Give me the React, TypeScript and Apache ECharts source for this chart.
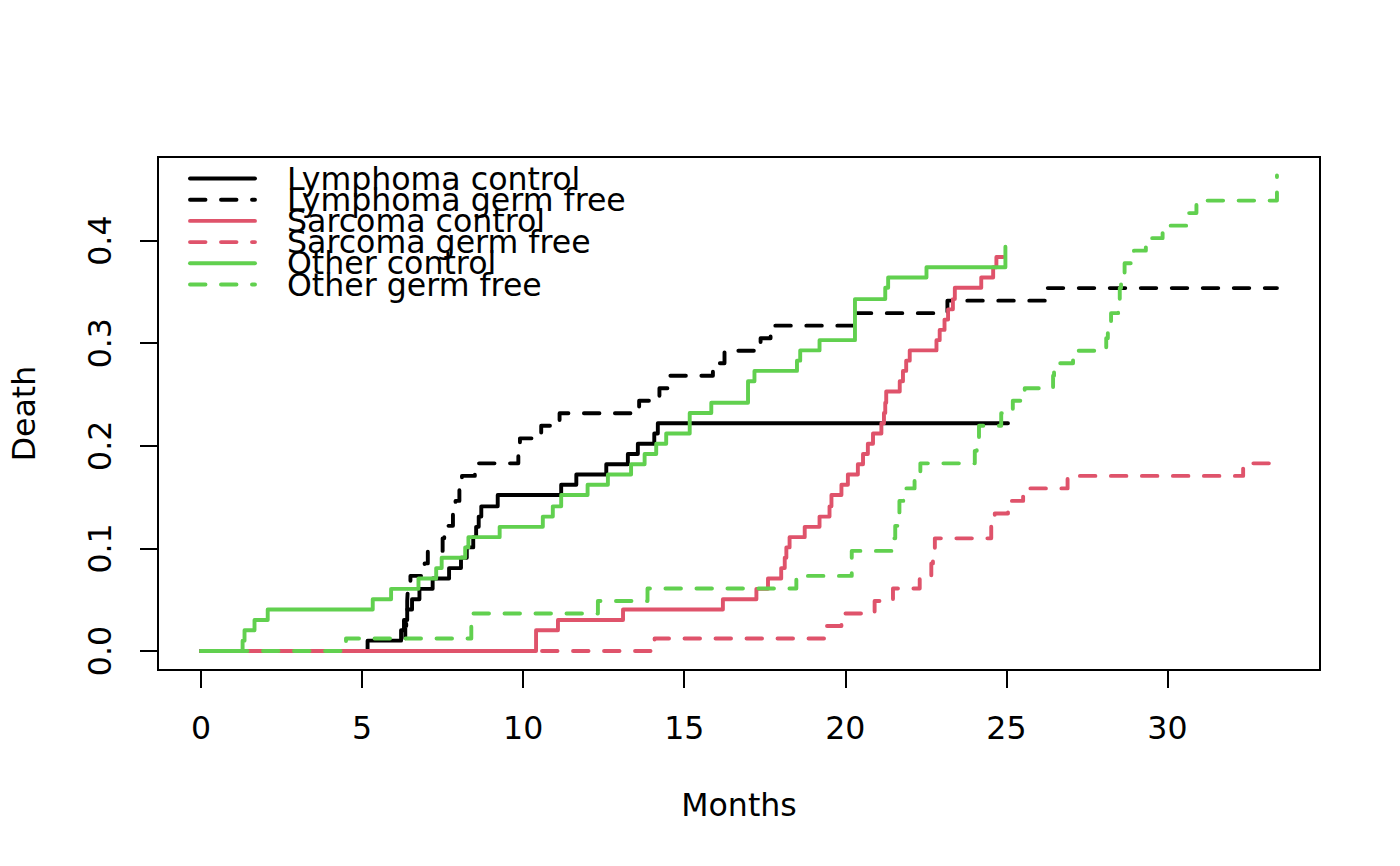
import React, { useEffect, useRef } from "react";
import * as echarts from "echarts";

const seriesNames = [
  "Lymphoma control",
  "Lymphoma germ free",
  "Sarcoma control",
  "Sarcoma germ free",
  "Other control",
  "Other germ free",
];
const seriesColors = ["#000000", "#000000", "#DF536B", "#DF536B", "#61D04F", "#61D04F"];
const seriesDashed = [false, true, false, true, false, true];

const lymphomaControl = [
  [0, 0], [5.17, 0.0101], [6.21, 0.0202], [6.3, 0.0303], [6.4, 0.0404], [6.55, 0.0505],
  [6.78, 0.0606], [7.19, 0.0707], [7.7, 0.0808], [8.07, 0.0909], [8.25, 0.101], [8.45, 0.111],
  [8.54, 0.121], [8.62, 0.131], [8.7, 0.141], [9.21, 0.152], [11.18, 0.162], [11.65, 0.172],
  [12.58, 0.182], [13.25, 0.192], [13.56, 0.202], [14.07, 0.212], [14.18, 0.222], [25.05, 0.222],
];

const lymphomaGermFree = [
  [0, 0], [6.3, 0.0122], [6.34, 0.0244], [6.37, 0.0366], [6.4, 0.0488], [6.42, 0.061],
  [6.5, 0.0732], [6.94, 0.0854], [7.04, 0.0976], [7.5, 0.1098], [7.55, 0.122], [7.82, 0.1341],
  [7.9, 0.1463], [8.02, 0.1585], [8.1, 0.1707], [8.5, 0.1829], [9.85, 0.1951], [9.9, 0.2073],
  [10.56, 0.2195], [11.13, 0.2317], [13.6, 0.2439], [14.23, 0.2561], [14.54, 0.2683],
  [15.89, 0.2805], [16.25, 0.2927], [17.37, 0.3049], [17.68, 0.3171], [20.31, 0.3293],
  [23.17, 0.3415], [26.24, 0.3537], [33.4, 0.3537],
];

const sarcomaControl = [
  [0, 0], [10.4, 0.0202], [11.08, 0.0303], [13.1, 0.0404], [16.2, 0.0505], [17.24, 0.0606],
  [17.6, 0.0707], [18.01, 0.0808], [18.12, 0.0909], [18.17, 0.101], [18.27, 0.111],
  [18.74, 0.121], [19.2, 0.131], [19.51, 0.141], [19.57, 0.152], [19.88, 0.162], [20.08, 0.172],
  [20.39, 0.182], [20.55, 0.192], [20.7, 0.202], [20.86, 0.212], [21.12, 0.222], [21.2, 0.232],
  [21.24, 0.242], [21.27, 0.253], [21.69, 0.263], [21.79, 0.273], [21.89, 0.283], [22.0, 0.293],
  [22.83, 0.303], [22.93, 0.313], [23.08, 0.323], [23.19, 0.333], [23.34, 0.343], [23.4, 0.354],
  [24.22, 0.364], [24.59, 0.374], [24.69, 0.384], [24.9, 0.384],
];

const sarcomaGermFree = [
  [0, 0], [14.08, 0.0122], [19.36, 0.0244], [19.88, 0.0366], [20.91, 0.0488], [21.48, 0.061],
  [22.31, 0.0732], [22.67, 0.0854], [22.72, 0.0976], [22.78, 0.1098], [24.53, 0.122],
  [24.64, 0.1341], [25.05, 0.1463], [25.52, 0.1585], [26.9, 0.1707], [32.35, 0.1829],
  [33.4, 0.1829],
];

const otherControl = [
  [0, 0], [1.29, 0.0101], [1.35, 0.0202], [1.66, 0.0303], [2.07, 0.0404], [5.33, 0.0505],
  [5.9, 0.0606], [6.75, 0.0707], [7.3, 0.0808], [7.47, 0.0909], [8.2, 0.101], [8.3, 0.111],
  [9.27, 0.121], [10.61, 0.131], [10.92, 0.141], [11.18, 0.152], [12.0, 0.162], [12.63, 0.172],
  [13.35, 0.182], [13.77, 0.192], [14.13, 0.202], [14.44, 0.212], [15.17, 0.232], [15.84, 0.242],
  [16.98, 0.263], [17.18, 0.273], [18.5, 0.283], [18.6, 0.293], [19.2, 0.303], [20.3, 0.343],
  [21.24, 0.354], [21.33, 0.364], [22.52, 0.374], [24.97, 0.394],
];

const otherGermFree = [
  [0, 0], [4.5, 0.0122], [8.39, 0.0366], [12.32, 0.0488], [13.86, 0.061], [18.48, 0.0732],
  [20.2, 0.0976], [21.5, 0.1098], [21.55, 0.122], [21.62, 0.1341], [21.68, 0.1463],
  [21.8, 0.1585], [22.15, 0.1707], [22.33, 0.1829], [24.02, 0.1951], [24.08, 0.2073],
  [24.15, 0.2195], [24.84, 0.2317], [25.2, 0.2439], [25.57, 0.2561], [26.45, 0.2683],
  [26.48, 0.2805], [27.07, 0.2927], [28.1, 0.3049], [28.15, 0.3171], [28.25, 0.3293],
  [28.47, 0.3415], [28.52, 0.3537], [28.56, 0.3659], [28.67, 0.378], [28.96, 0.3902],
  [29.33, 0.4024], [29.85, 0.4146], [30.6, 0.4268], [30.9, 0.439], [33.4, 0.4634],
];

const seriesData = [
  lymphomaControl,
  lymphomaGermFree,
  sarcomaControl,
  sarcomaGermFree,
  otherControl,
  otherGermFree,
];

const xTicks = [0, 5, 10, 15, 20, 25, 30];
const yTicks = [0, 0.1, 0.2, 0.3, 0.4];

const FONT = "DejaVu Sans";
const FS = 31.6;
const LW = 3.9;
const DASH = [15.5, 15.5];

export default function App() {
  const ref = useRef<HTMLDivElement>(null);

  useEffect(() => {
    document.body.style.margin = "0";
    const chart = echarts.init(ref.current!, null, { renderer: "svg" });

    const legendGraphics: any[] = [];
    seriesNames.forEach((name, i) => {
      const y = 178.5 + i * 21.2;
      legendGraphics.push({
        type: "line",
        shape: { x1: 190, y1: y, x2: 255, y2: y },
        style: {
          stroke: seriesColors[i],
          lineWidth: LW,
          lineDash: seriesDashed[i] ? DASH : null,
          lineCap: "round",
        },
        z: 10,
      });
      legendGraphics.push({
        type: "text",
        x: 287,
        y: y,
        style: {
          text: name,
          fontSize: FS,
          fontFamily: FONT,
          fill: "#000",
          align: "left",
          verticalAlign: "middle",
        },
        z: 10,
      });
    });

    const option: any = {
      animation: false,
      backgroundColor: "#ffffff",
      grid: {
        left: 158,
        right: 80,
        top: 157,
        bottom: 196,
        show: true,
        borderColor: "#000",
        borderWidth: 2,
        backgroundColor: "transparent",
      },
      xAxis: {
        type: "value",
        min: -1.336,
        max: 34.736,
        name: "Months",
        nameLocation: "middle",
        nameGap: 119,
        nameTextStyle: { fontSize: FS, fontFamily: FONT, color: "#000" },
        axisLine: { show: true, onZero: false, lineStyle: { color: "#000", width: 2 } },
        axisTick: {
          show: true,
          length: 18,
          inside: false,
          customValues: xTicks,
          lineStyle: { color: "#000", width: 2 },
        },
        axisLabel: {
          show: true,
          customValues: xTicks,
          margin: 42,
          fontSize: FS,
          fontFamily: FONT,
          color: "#000",
          formatter: (v: number) => String(v),
        },
        splitLine: { show: false },
      },
      yAxis: {
        type: "value",
        min: -0.0185,
        max: 0.4815,
        name: "Death",
        nameLocation: "middle",
        nameGap: 118,
        nameRotate: 90,
        nameTextStyle: { fontSize: FS, fontFamily: FONT, color: "#000" },
        axisLine: { show: true, onZero: false, lineStyle: { color: "#000", width: 2 } },
        axisTick: {
          show: true,
          length: 18,
          inside: false,
          customValues: yTicks,
          lineStyle: { color: "#000", width: 2 },
        },
        axisLabel: {
          show: true,
          customValues: yTicks,
          rotate: 90,
          margin: 42,
          fontSize: FS,
          fontFamily: FONT,
          color: "#000",
          formatter: (v: number) => v.toFixed(1),
        },
        splitLine: { show: false },
      },
      series: seriesNames.map((name, i) => ({
        name,
        type: "line",
        step: "end",
        data: seriesData[i],
        showSymbol: false,
        symbol: "none",
        lineStyle: {
          color: seriesColors[i],
          width: LW,
          type: seriesDashed[i] ? DASH : "solid",
          cap: "round",
          join: "round",
        },
        itemStyle: { color: seriesColors[i] },
        emphasis: { disabled: true },
      })),
      graphic: legendGraphics,
    };

    chart.setOption(option);
    return () => chart.dispose();
  }, []);

  return <div ref={ref} style={{ width: 1400, height: 866 }} />;
}
